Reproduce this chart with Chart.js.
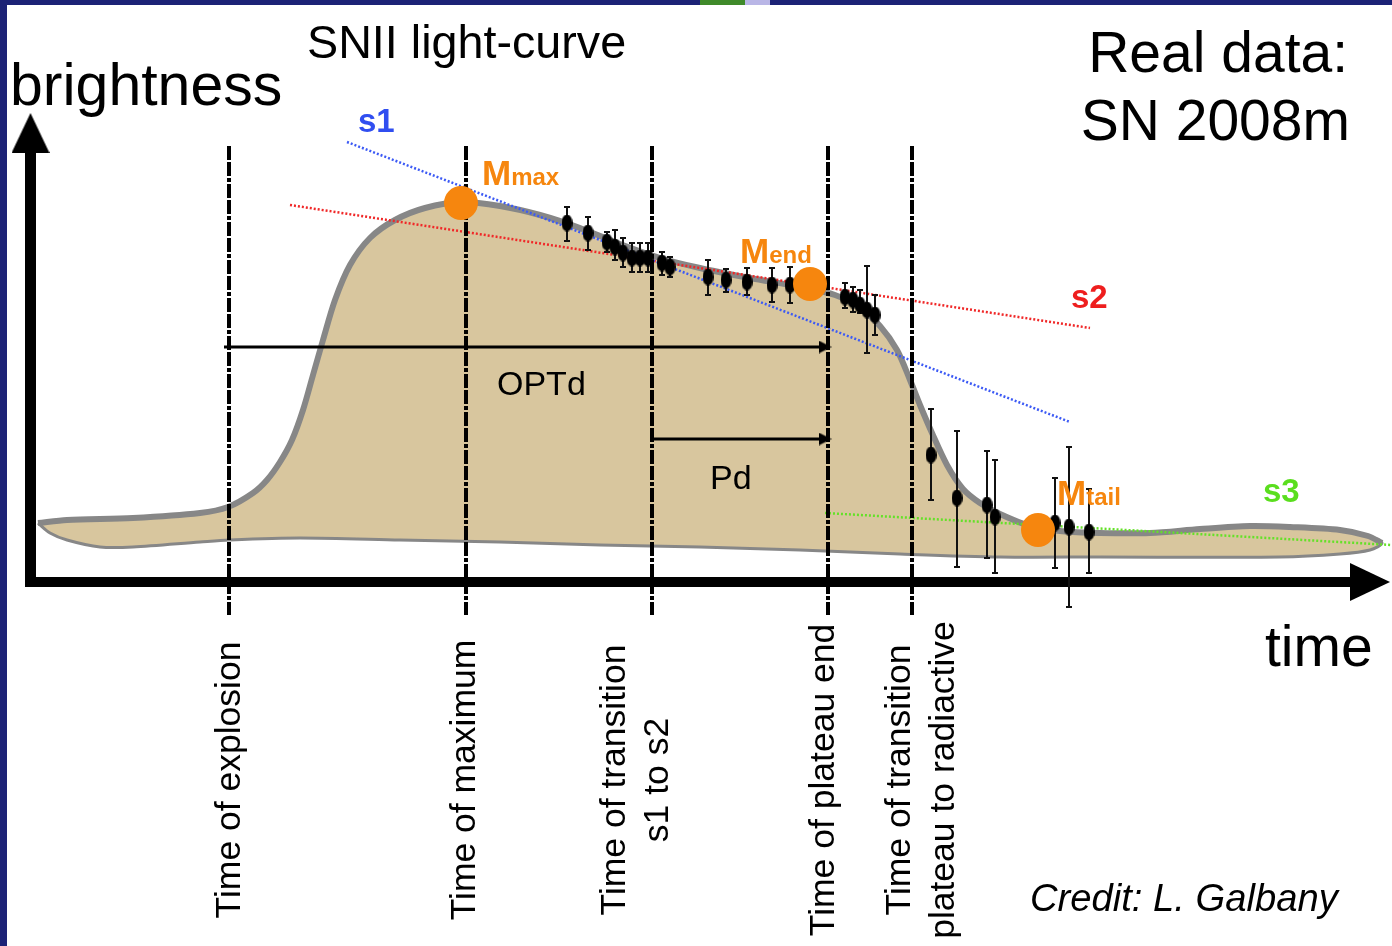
<!DOCTYPE html>
<html>
<head>
<meta charset="utf-8">
<script src="https://cdn.jsdelivr.net/npm/chart.js@4.4.1/dist/chart.umd.min.js"></script>
<style>
  html, body { margin: 0; padding: 0; background: #fff; }
  #wrap { width: 1392px; height: 946px; }
</style>
</head>
<body>
<div id="wrap"><canvas id="lc" width="1392" height="946"></canvas></div>
<script>
// schematic SNII light curve (y grows downward = fainter)
const curveX = [38, 67, 133, 200, 228, 253, 267, 280, 292, 303, 313, 323, 335, 350, 370, 395, 425, 461, 500, 540, 580, 620, 660, 700, 750, 800, 835, 860, 880, 897, 910, 920, 932, 947, 963, 980, 1000, 1030, 1060, 1100, 1150, 1200, 1250, 1290, 1340, 1368, 1382,
  1370, 1340, 1280, 1100, 1000, 900, 800, 700, 600, 500, 400, 300, 229, 200, 133, 100, 67, 50, 38]
const curveY = [523, 520, 518, 513, 507, 493, 480, 462, 440, 410, 375, 340, 300, 265, 238, 220, 208, 202, 206, 215, 228, 244, 258, 268, 278, 287, 295, 308, 326, 350, 380, 405, 433, 465, 489, 503, 514, 526, 531, 533, 533, 529, 526, 527, 530, 536, 543,
  550, 554, 557, 557, 557, 554, 550, 547, 545, 542, 540, 538, 540, 542, 547, 547, 540, 533, 523]
const upperCount = 47 // first points are the top edge

// SN 2008m photometry
const obsX = [567, 588, 607, 615, 623, 632, 640, 648, 662, 670, 708, 726, 747, 772, 790, 845, 853, 860, 867, 875, 931, 957, 987, 995, 1055, 1069, 1089]
const obsY = [223, 233, 242, 247, 253, 258, 258, 258, 263, 267, 277, 280, 282, 285, 285, 297, 300, 305, 310, 315, 455, 498, 505, 517, 523, 527, 532]
const errTop = [207, 217, 232, 230, 238, 243, 243, 243, 252, 257, 260, 269, 268, 268, 267, 283, 287, 290, 266, 295, 409, 431, 451, 460, 478, 447, 489]
const errBot = [241, 250, 252, 260, 267, 272, 272, 272, 275, 277, 295, 292, 295, 302, 303, 308, 312, 313, 353, 335, 500, 567, 558, 573, 568, 607, 573]

// Mmax, Mend, Mtail
const markX = [461, 810, 1038]
const markY = [203, 284, 530]
const markSub = ['max', 'end', 'tail']

// slopes
const s1X = [347, 1070], s1Y = [142, 422]
const s2X = [290, 1090], s2Y = [205, 328]
const s3X = [825, 1392], s3Y = [513, 545]

// phase times
const phaseX = [229, 466, 652, 828, 912]
const phaseLabels = [['Time of explosion'], ['Time of maximum'], ['Time of transition', 's1 to s2'], ['Time of plateau end'], ['Time of transition', 'plateau to radiactive']]
const phaseTop = 146, phaseBottom = 615

// durations
const optdX = [224, 825], optdY = 347
const pdX = [652, 825], pdY = 439

const ORANGE = 'rgb(246,134,14)'
const FONT = '"Liberation Sans", Arial, sans-serif'

function makeArrow(w, h) { // arrowhead pointing up
  const c = document.createElement('canvas')
  c.width = w; c.height = h
  const g = c.getContext('2d')
  g.fillStyle = '#000'
  g.beginPath(); g.moveTo(w / 2, 0); g.lineTo(w, h); g.lineTo(0, h); g.closePath(); g.fill()
  return c
}
function makeEllipse(w, h) {
  const c = document.createElement('canvas')
  c.width = w; c.height = h
  const g = c.getContext('2d')
  g.fillStyle = '#000'
  g.beginPath(); g.ellipse(w / 2, h / 2, w / 2, h / 2, 0, 0, Math.PI * 2); g.fill()
  return c
}
const bigArrow = makeArrow(38, 40)
const smallArrow = makeArrow(13, 13)
const dotImg = makeEllipse(11, 17)

function pts(xs, ys) { return xs.map((v, i) => ({x: v, y: ys[i]})) }

// vertical dash-dot lines, one dataset with gaps
let phasePts = []
phaseX.forEach(v => { phasePts.push({x: v, y: phaseTop}, {x: v, y: phaseBottom}, {x: v, y: null}) })

let errPts = []
obsX.forEach((v, i) => { errPts.push({x: v, y: errTop[i]}, {x: v, y: errBot[i]}, {x: v, y: null}) })

const bgPlugin = {
  id: 'bg',
  beforeDraw(chart) {
    const ctx = chart.ctx
    ctx.save()
    ctx.fillStyle = '#fff'
    ctx.fillRect(0, 0, chart.width, chart.height)
    ctx.fillStyle = '#1c2276'
    ctx.fillRect(0, 0, 7, chart.height)
    ctx.fillRect(0, 0, chart.width, 5)
    ctx.fillStyle = '#3f8a2a'
    ctx.fillRect(700, 0, 45, 5)
    ctx.fillStyle = '#b9b6e6'
    ctx.fillRect(745, 0, 25, 5)
    ctx.restore()
  }
}

const textPlugin = {
  id: 'labels',
  afterDatasetsDraw(chart) {
    const ctx = chart.ctx
    const sx = chart.scales.x, sy = chart.scales.y
    const px = v => sx.getPixelForValue(v), py = v => sy.getPixelForValue(v)
    ctx.save()
    ctx.textBaseline = 'alphabetic'
    ctx.fillStyle = '#000'
    ctx.textAlign = 'left'
    ctx.font = '46.7px ' + FONT
    ctx.fillText('SNII light-curve', px(307), py(58))
    ctx.font = '59px ' + FONT
    ctx.fillText('brightness', px(10), py(105))
    ctx.font = '57px ' + FONT
    ctx.fillText('time', px(1265), py(666))
    ctx.textAlign = 'right'
    ctx.fillText('Real data:', px(1348), py(72))
    ctx.fillText('SN 2008m', px(1350), py(140))
    ctx.textAlign = 'left'
    ctx.font = 'italic 38.2px ' + FONT
    ctx.fillText('Credit: L. Galbany', px(1030), py(911))
    ctx.font = '34px ' + FONT
    ctx.fillText('OPTd', px(497), py(395))
    ctx.fillText('Pd', px(710), py(489))

    // slope names
    ctx.font = 'bold 33px ' + FONT
    ctx.fillStyle = 'rgb(48,78,240)'
    ctx.fillText('s1', px(358), py(132))
    ctx.fillStyle = 'rgb(238,30,30)'
    ctx.fillText('s2', px(1071), py(308))
    ctx.fillStyle = 'rgb(90,222,30)'
    ctx.fillText('s3', px(1263), py(502))

    // M labels
    const mPos = [[482, 185], [740, 263], [1057, 505]]
    ctx.fillStyle = ORANGE
    markSub.forEach((s, i) => {
      ctx.font = 'bold 35px ' + FONT
      const x0 = px(mPos[i][0]), y0 = py(mPos[i][1])
      ctx.fillText('M', x0, y0)
      const w = ctx.measureText('M').width
      ctx.font = 'bold 24px ' + FONT
      ctx.fillText(s, x0 + w, y0)
    })

    // rotated phase names
    ctx.fillStyle = '#000'
    ctx.font = '35.5px ' + FONT
    ctx.textAlign = 'center'
    const baseX = [[240], [475], [625, 668], [834], [910, 954]]
    phaseLabels.forEach((lines, i) => {
      lines.forEach((t, j) => {
        ctx.save()
        ctx.translate(px(baseX[i][j]), py(780))
        ctx.rotate(-Math.PI / 2)
        ctx.fillText(t, 0, 0)
        ctx.restore()
      })
    })
    ctx.restore()
  }
}

const lcChart = new Chart(document.getElementById('lc'), {
  type: 'scatter',
  data: {
    datasets: [
      { // Mmax / Mend / Mtail
        data: pts(markX, markY),
        pointRadius: 17,
        pointBackgroundColor: ORANGE,
        pointBorderWidth: 0,
        order: 1
      },
      { // observations
        data: pts(obsX, obsY),
        pointStyle: dotImg,
        pointRadius: 6,
        order: 2
      },
      { // error bars
        data: errPts,
        showLine: true,
        borderColor: '#111',
        borderWidth: 2,
        pointStyle: 'line',
        pointRadius: 3,
        pointBorderColor: '#111',
        pointBorderWidth: 2,
        order: 3
      },
      { // OPTd
        data: [{x: optdX[0], y: optdY}, {x: optdX[1], y: optdY}],
        showLine: true,
        borderColor: '#000',
        borderWidth: 3,
        pointStyle: smallArrow,
        pointRadius: [0, 6],
        pointRotation: 90,
        order: 4
      },
      { // Pd
        data: [{x: pdX[0], y: pdY}, {x: pdX[1], y: pdY}],
        showLine: true,
        borderColor: '#000',
        borderWidth: 3,
        pointStyle: smallArrow,
        pointRadius: [0, 6],
        pointRotation: 90,
        order: 4
      },
      { // brightness axis
        data: [{x: 30.5, y: 587}, {x: 30.5, y: 133}],
        showLine: true,
        borderColor: '#000',
        borderWidth: 11,
        pointStyle: bigArrow,
        pointRadius: [0, 10],
        order: 5
      },
      { // time axis
        data: [{x: 25, y: 582}, {x: 1370, y: 582}],
        showLine: true,
        borderColor: '#000',
        borderWidth: 10,
        pointStyle: bigArrow,
        pointRadius: [0, 10],
        pointRotation: 90,
        order: 5
      },
      { // phase times
        data: phasePts,
        showLine: true,
        borderColor: '#000',
        borderWidth: 4,
        borderDash: [14, 2, 14, 2, 4, 2],
        pointRadius: 0,
        order: 6
      },
      { // s1
        data: pts(s1X, s1Y),
        showLine: true,
        borderColor: 'rgb(60,90,245)',
        borderWidth: 2.5,
        borderDash: [2, 2],
        pointRadius: 0,
        order: 7
      },
      { // s2
        data: pts(s2X, s2Y),
        showLine: true,
        borderColor: 'rgb(240,40,40)',
        borderWidth: 2.5,
        borderDash: [2, 2],
        pointRadius: 0,
        order: 7
      },
      { // s3
        data: pts(s3X, s3Y),
        showLine: true,
        borderColor: 'rgb(100,225,40)',
        borderWidth: 2.5,
        borderDash: [2, 2],
        pointRadius: 0,
        order: 7
      },
      { // light-curve template, thick upper edge
        data: pts(curveX.slice(0, upperCount), curveY.slice(0, upperCount)),
        showLine: true,
        borderColor: 'rgb(135,135,135)',
        borderWidth: 6,
        tension: 0.3,
        pointRadius: 0,
        order: 8
      },
      { // light-curve template, filled body
        data: pts(curveX, curveY),
        showLine: true,
        fill: 'shape',
        backgroundColor: 'rgb(216,198,158)',
        borderColor: 'rgb(135,135,135)',
        borderWidth: 3,
        tension: 0.3,
        pointRadius: 0,
        order: 9
      }
    ]
  },
  options: {
    responsive: false,
    animation: false,
    layout: { padding: 0, autoPadding: false },
    plugins: { legend: { display: false }, tooltip: { enabled: false } },
    scales: {
      x: { type: 'linear', display: false, min: 0, max: 1392 },
      y: { type: 'linear', display: false, min: 0, max: 946, reverse: true }
    }
  },
  plugins: [bgPlugin, textPlugin]
})
</script>
</body>
</html>
